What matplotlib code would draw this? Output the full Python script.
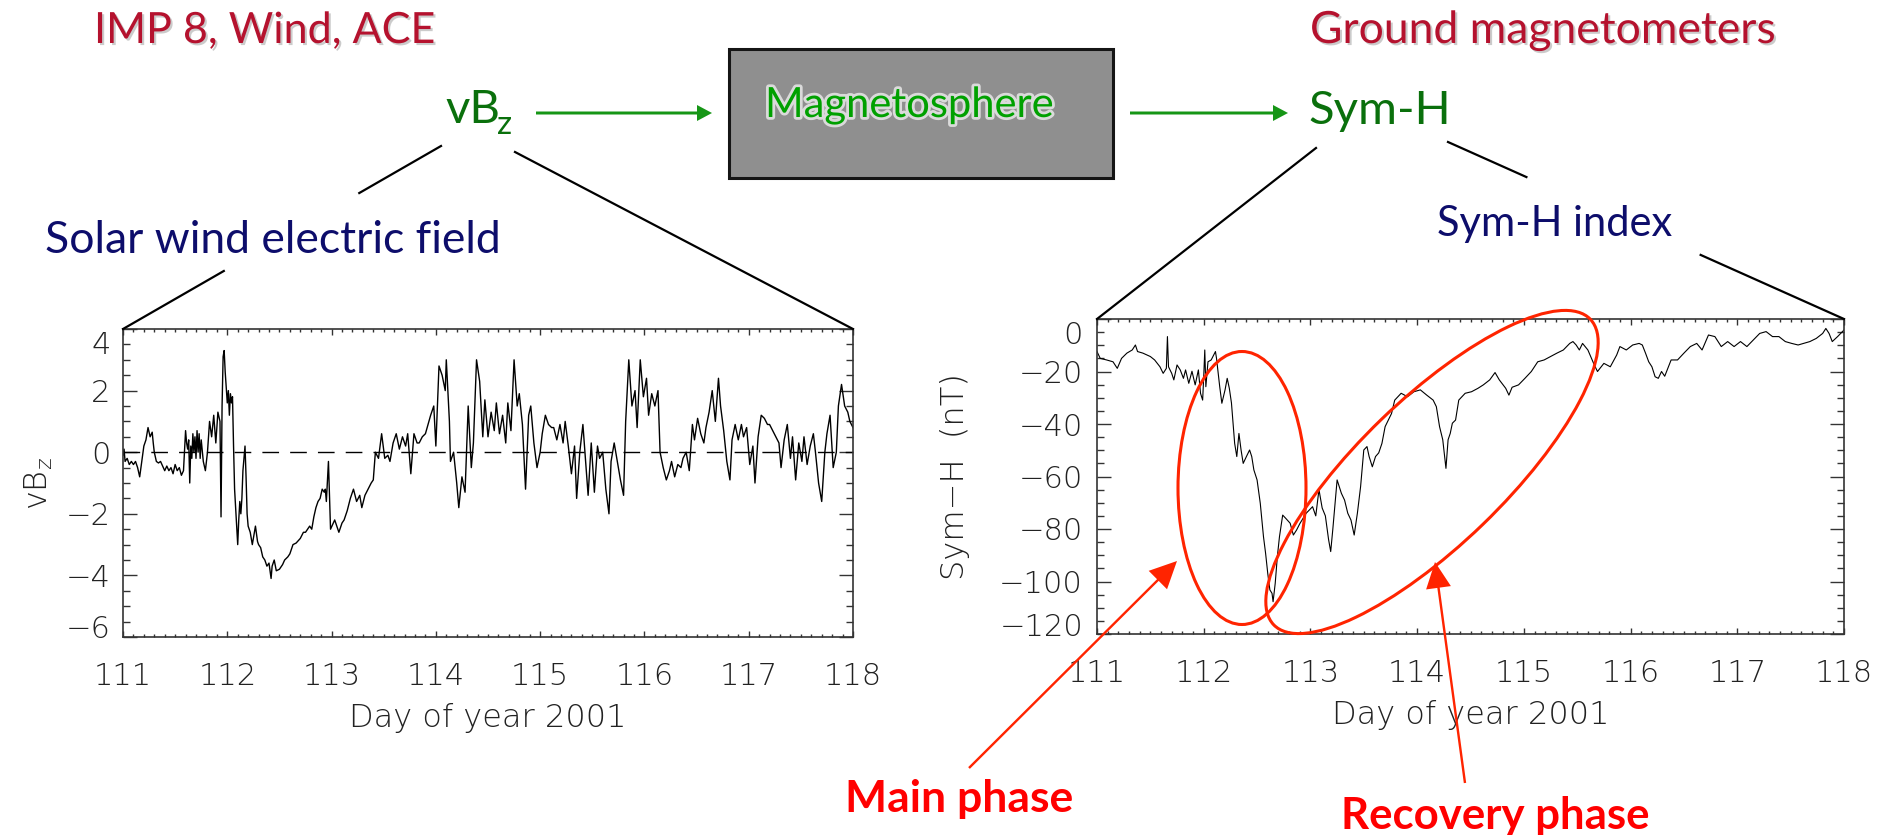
import matplotlib
matplotlib.use("Agg")
import matplotlib.pyplot as plt
import matplotlib.patheffects as pe
from matplotlib.patches import Rectangle, Ellipse, FancyArrow
from matplotlib.ticker import MultipleLocator
from matplotlib.transforms import ScaledTranslation

# Solar wind electric field vBz, day of year 2001
vbz_day = [
    111.00, 111.01, 111.02, 111.04, 111.06, 111.08, 111.10, 111.12, 111.14, 111.16,
    111.18, 111.20, 111.22, 111.24, 111.26, 111.28, 111.29, 111.30, 111.32, 111.34,
    111.36, 111.38, 111.40, 111.42, 111.44, 111.46, 111.48, 111.50, 111.52, 111.54,
    111.56, 111.58, 111.60, 111.61, 111.62, 111.63, 111.64, 111.65, 111.66, 111.67,
    111.68, 111.69, 111.70, 111.71, 111.72, 111.73, 111.74, 111.75, 111.77, 111.79,
    111.81, 111.83, 111.85, 111.87, 111.89, 111.91, 111.93, 111.94, 111.95, 111.96,
    111.97, 111.98, 111.99, 112.00, 112.01, 112.02, 112.03, 112.04, 112.05, 112.06,
    112.07, 112.08, 112.10, 112.11, 112.12, 112.13, 112.14, 112.15, 112.16, 112.17,
    112.18, 112.19, 112.20, 112.22, 112.24, 112.26, 112.27, 112.29, 112.30, 112.32,
    112.34, 112.36, 112.38, 112.40, 112.42, 112.43, 112.45, 112.47, 112.50, 112.53,
    112.55, 112.58, 112.60, 112.63, 112.66, 112.70, 112.73, 112.75, 112.77, 112.79,
    112.81, 112.83, 112.85, 112.87, 112.89, 112.91, 112.93, 112.94, 112.95, 112.97,
    112.98, 112.99, 113.03, 113.07, 113.10, 113.12, 113.15, 113.18, 113.21, 113.24,
    113.27, 113.29, 113.32, 113.35, 113.38, 113.40, 113.42, 113.45, 113.48, 113.51,
    113.54, 113.56, 113.59, 113.62, 113.65, 113.68, 113.71, 113.73, 113.76, 113.79,
    113.82, 113.84, 113.87, 113.90, 113.95, 113.98, 114.00, 114.03, 114.06, 114.09,
    114.10, 114.13, 114.14, 114.17, 114.20, 114.22, 114.25, 114.28, 114.31, 114.34,
    114.36, 114.39, 114.42, 114.45, 114.47, 114.50, 114.53, 114.56, 114.58, 114.61,
    114.64, 114.67, 114.69, 114.72, 114.75, 114.78, 114.80, 114.83, 114.86, 114.89,
    114.91, 114.94, 114.97, 115.00, 115.02, 115.05, 115.08, 115.11, 115.13, 115.16,
    115.19, 115.22, 115.24, 115.27, 115.30, 115.33, 115.35, 115.38, 115.41, 115.44,
    115.46, 115.49, 115.52, 115.55, 115.57, 115.60, 115.63, 115.66, 115.68, 115.71,
    115.74, 115.77, 115.80, 115.82, 115.85, 115.88, 115.91, 115.93, 115.96, 115.99,
    116.02, 116.04, 116.07, 116.10, 116.13, 116.15, 116.18, 116.21, 116.24, 116.26,
    116.29, 116.32, 116.35, 116.37, 116.40, 116.43, 116.46, 116.48, 116.51, 116.54,
    116.57, 116.59, 116.62, 116.65, 116.68, 116.71, 116.73, 116.76, 116.79, 116.82,
    116.84, 116.87, 116.90, 116.93, 116.95, 116.98, 117.01, 117.04, 117.06, 117.09,
    117.12, 117.15, 117.18, 117.20, 117.23, 117.26, 117.29, 117.31, 117.34, 117.37,
    117.40, 117.42, 117.45, 117.48, 117.51, 117.53, 117.56, 117.59, 117.62, 117.64,
    117.67, 117.70, 117.73, 117.75, 117.78, 117.81, 117.84, 117.86, 117.89, 117.92,
    117.95, 117.97, 118.00,
]
vbz_val = [
    -0.1, 0.1, -0.3, -0.2, -0.4, -0.3, -0.4, -0.3, -0.5, -0.8,
    -0.3, 0.2, 0.4, 0.8, 0.5, 0.65, 0.3, 0.0, -0.3, -0.35,
    -0.3, -0.45, -0.6, -0.45, -0.6, -0.5, -0.7, -0.4, -0.6, -0.5,
    -0.75, -0.6, 0.7, 0.3, 0.1, 0.4, -1.0, 0.2, -0.2, 0.6,
    0.0, 0.5, -0.2, 0.7, 0.0, 0.6, -0.2, 0.4, -0.3, -0.6,
    0.0, 1.0, 0.5, 1.2, 0.3, 1.3, 1.0, -2.1, 1.5, 3.1,
    3.3, 2.6, 2.1, 1.6, 2.0, 1.2, 1.9, 1.6, 1.8, 0.2,
    -1.2, -1.8, -3.0, -2.2, -1.6, -2.0, -1.5, -0.6, -0.2, 0.2,
    -0.8, -2.0, -2.4, -2.6, -3.0, -2.6, -2.4, -2.9, -3.0, -3.1,
    -3.4, -3.5, -3.7, -3.6, -4.1, -3.7, -3.5, -3.85, -3.8, -3.65,
    -3.5, -3.4, -3.3, -3.0, -2.95, -2.8, -2.6, -2.6, -2.5, -2.4,
    -2.5, -2.1, -1.8, -1.6, -1.5, -1.2, -1.3, -1.2, -1.6, -0.3,
    -1.4, -2.5, -2.2, -2.6, -2.3, -2.2, -1.9, -1.5, -1.2, -1.6,
    -1.4, -1.8, -1.4, -1.2, -1.0, -0.9, 0.0, -0.2, 0.6, -0.2,
    -0.1, -0.3, 0.3, 0.6, 0.1, 0.5, 0.2, 0.6, -0.7, 0.6,
    0.3, 0.3, 0.5, 0.6, 1.2, 1.5, 0.2, 2.8, 2.5, 2.0,
    3.0, 1.0, -0.3, 0.0, -1.0, -1.8, -0.8, -1.3, 1.5, -0.5,
    0.3, 3.0, 2.3, 0.5, 1.7, 0.5, 1.3, 0.7, 1.6, 0.6,
    1.2, 0.3, 1.6, 0.7, 3.0, 1.5, 1.9, 0.9, -1.2, 1.2,
    1.5, 0.3, -0.5, 0.0, 0.6, 1.2, 0.9, 0.8, 0.8, 0.4,
    0.9, 0.3, 1.0, 0.2, -0.7, 0.2, -1.5, 0.0, 0.9, -0.5,
    -1.4, 0.3, -1.3, 0.2, -0.2, 0.0, -1.2, -2.0, -0.3, 0.3,
    -0.3, -0.9, -1.4, 1.0, 3.0, 1.5, 2.0, 0.8, 3.0, 1.8,
    2.4, 1.2, 1.9, 1.5, 2.0, 0.0, -0.5, -0.9, -0.6, -0.3,
    -0.8, -0.4, -0.5, -0.2, 0.0, -0.6, 0.9, 0.4, 1.1, 0.6,
    0.3, 0.8, 1.3, 2.0, 1.0, 2.4, 1.5, 0.7, -0.3, -0.9,
    0.4, 0.9, 0.4, 0.9, 0.5, 0.8, -0.4, 0.2, -1.0, 0.5,
    1.2, 1.1, 0.9, 0.9, 0.7, 0.5, 0.3, -0.5, 0.4, 0.9,
    -0.2, 0.5, -0.9, 0.3, -0.3, 0.5, -0.4, 0.2, 0.6, 0.0,
    -1.0, -1.6, 0.0, 0.6, 1.2, -0.5, 0.0, 1.5, 2.2, 1.5,
    1.3, 1.0, 0.8,
]

# Sym-H index (nT), day of year 2001
symh_day = [
    111.00, 111.03, 111.09, 111.15, 111.19, 111.23, 111.28, 111.33, 111.36, 111.38,
    111.43, 111.50, 111.54, 111.59, 111.62, 111.65, 111.66, 111.67, 111.70, 111.72,
    111.75, 111.78, 111.81, 111.83, 111.86, 111.89, 111.92, 111.95, 111.97, 111.99,
    112.00, 112.01, 112.02, 112.04, 112.07, 112.11, 112.12, 112.15, 112.17, 112.20,
    112.22, 112.24, 112.26, 112.27, 112.29, 112.31, 112.33, 112.35, 112.37, 112.40,
    112.43, 112.45, 112.47, 112.50, 112.53, 112.56, 112.58, 112.60, 112.62, 112.64,
    112.65, 112.67, 112.69, 112.71, 112.74, 112.77, 112.81, 112.84, 112.87, 112.90,
    112.96, 113.02, 113.05, 113.08, 113.11, 113.14, 113.17, 113.19, 113.21, 113.25,
    113.29, 113.32, 113.35, 113.38, 113.41, 113.44, 113.47, 113.50, 113.53, 113.55,
    113.58, 113.61, 113.64, 113.67, 113.70, 113.73, 113.76, 113.79, 113.85, 113.91,
    113.97, 114.03, 114.09, 114.15, 114.18, 114.21, 114.24, 114.27, 114.29, 114.31,
    114.33, 114.36, 114.39, 114.45, 114.51, 114.57, 114.62, 114.68, 114.73, 114.77,
    114.83, 114.86, 114.89, 114.95, 115.01, 115.07, 115.13, 115.19, 115.25, 115.31,
    115.37, 115.43, 115.46, 115.49, 115.52, 115.55, 115.60, 115.66, 115.69, 115.75,
    115.81, 115.87, 115.90, 115.96, 116.02, 116.08, 116.11, 116.14, 116.17, 116.20,
    116.23, 116.26, 116.29, 116.32, 116.38, 116.44, 116.50, 116.56, 116.62, 116.67,
    116.73, 116.79, 116.85, 116.91, 116.97, 117.03, 117.09, 117.15, 117.21, 117.27,
    117.33, 117.39, 117.45, 117.51, 117.57, 117.62, 117.68, 117.74, 117.80, 117.83,
    117.86, 117.89, 117.94, 118.00,
]
symh_val = [
    -12.4, -15.0, -15.6, -16.3, -18.8, -15.0, -13.0, -11.8, -9.9, -12.4,
    -13.0, -14.3, -15.6, -18.2, -20.7, -18.8, -6.7, -18.2, -20.7, -23.2,
    -17.5, -19.4, -22.6, -19.4, -24.5, -19.9, -25.1, -19.4, -28.3, -30.9,
    -22.0, -11.8, -25.8, -16.3, -15.6, -12.4, -15.0, -25.8, -32.1, -27.0,
    -22.6, -26.4, -32.0, -37.2, -47.4, -52.4, -43.6, -49.9, -55.0, -52.4,
    -49.9, -52.4, -57.5, -61.3, -70.2, -82.9, -89.3, -96.9, -103.2, -104.5,
    -107.7, -100.7, -90.5, -82.9, -74.7, -76.0, -77.8, -82.3, -80.4, -78.0,
    -74.0, -71.5, -75.0, -65.0, -72.0, -75.0, -84.0, -88.6, -80.0, -61.3,
    -66.4, -69.0, -74.0, -76.6, -82.3, -74.0, -63.9, -49.9, -48.6, -52.4,
    -56.3, -52.4, -51.0, -47.4, -41.0, -38.5, -36.0, -30.9, -28.3, -29.6,
    -27.7, -27.0, -29.0, -30.9, -33.4, -41.0, -46.0, -56.9, -46.0, -43.6,
    -39.7, -38.5, -30.9, -28.3, -27.7, -26.4, -25.1, -23.2, -20.4, -23.2,
    -26.4, -29.0, -26.0, -25.1, -22.6, -20.0, -16.3, -15.6, -14.3, -13.0,
    -11.8, -9.3, -8.6, -9.9, -11.8, -9.3, -11.8, -17.5, -20.0, -16.9,
    -18.2, -13.7, -10.5, -11.8, -9.9, -9.3, -9.9, -13.0, -16.3, -18.2,
    -22.0, -22.6, -20.0, -21.8, -15.6, -15.6, -13.0, -10.5, -9.3, -11.8,
    -6.1, -6.7, -10.5, -8.6, -10.5, -8.6, -10.5, -8.0, -5.5, -4.8,
    -6.7, -6.7, -8.6, -9.3, -9.9, -9.3, -8.6, -7.4, -5.5, -3.6,
    -5.5, -8.6, -6.7, -4.2,
]

day_ticks = [111, 112, 113, 114, 115, 116, 117, 118]
vbz_ticks = [-6, -4, -2, 0, 2, 4]
symh_ticks = [-120, -100, -80, -60, -40, -20, 0]

W, H = 1894, 835
plt.rcParams["font.family"] = "DejaVu Sans"
plt.rcParams["font.weight"] = "light"
plt.rcParams["axes.labelweight"] = "light"
fig = plt.figure(figsize=(W / 100, H / 100), dpi=100)

LEFT_BOX = (123, 329, 853, 637)     # left, top, right, bottom in pixels
RIGHT_BOX = (1097, 319, 1844, 634)


def px_axes(box):
    l, t, r, b = box
    return fig.add_axes([l / W, 1 - b / H, (r - l) / W, (b - t) / H])


def nudge(label, dy_px):
    label.set_transform(label.get_transform()
                        + ScaledTranslation(0, dy_px / 100, fig.dpi_scale_trans))


def idl_axes(ax, yticks, yminor, ypad):
    ax.set_xlim(111, 118)
    ax.set_xticks(day_ticks)
    ax.xaxis.set_minor_locator(MultipleLocator(0.1))
    ax.set_yticks(yticks)
    ax.set_ylim(yticks[0], yticks[-1])
    ax.yaxis.set_minor_locator(MultipleLocator(yminor))
    ax.tick_params(which="both", direction="in", top=True, right=True,
                   color="#333333", width=1.0, labelsize=22, labelcolor="#222222")
    ax.tick_params(axis="x", which="major", length=4.5, pad=18)
    ax.tick_params(axis="x", which="minor", length=2.2)
    ax.tick_params(axis="y", which="major", length=10, pad=ypad)
    ax.tick_params(axis="y", which="minor", length=5)
    for s in ax.spines.values():
        s.set_color("#333333")
        s.set_linewidth(1.2)
    ax.set_xlabel("Day of year 2001", fontsize=23, color="#222222", fontweight="light")
    ticks = ax.yaxis.get_major_ticks()
    nudge(ticks[0].label1, 10)
    nudge(ticks[-1].label1, -14)


# Left: solar wind electric field
ax1 = px_axes(LEFT_BOX)
ax1.plot(vbz_day, vbz_val, color="black", lw=1.0)
ax1.axhline(0, color="black", lw=1.0, ls=(0, (12, 8)))
idl_axes(ax1, vbz_ticks, 0.5, 9)
ax1.set_ylabel("vB$_\\mathregular{z}$", fontsize=23, color="#222222",
               fontweight="light", va="center")
ax1.yaxis.set_label_coords(-0.116, 0.5)
ax1.xaxis.set_label_coords(0.5, -0.215)

# Right: Sym-H index
ax2 = px_axes(RIGHT_BOX)
ax2.plot(symh_day, symh_val, color="black", lw=0.8)
idl_axes(ax2, symh_ticks, 5, 10)
ax2.set_ylabel("Sym\u2212H  (nT)", fontsize=23, color="#222222",
               fontweight="light", va="center")
ax2.yaxis.set_label_coords(-0.19, 0.5)
ax2.xaxis.set_label_coords(0.5, -0.21)

# Overlay in pixel units for the diagram
ov = fig.add_axes([0, 0, 1, 1])
ov.set_xlim(0, W)
ov.set_ylim(H, 0)
ov.axis("off")

SANS = "Lato"
crimson = "#b5122e"
dkgreen = "#0a700c"
navy = "#0d0d6b"
arrow_green = "#169616"
red = "#ff2400"

shadow = [pe.SimplePatchShadow(offset=(1.5, -1.5), shadow_rgbFace="#999999", alpha=0.5),
          pe.Normal()]

ov.add_patch(Rectangle((729, 49), 384, 129, facecolor="#8f8f8f",
                       edgecolor="#151515", lw=2.2))
ov.text(765, 117, "Magnetosphere", color="#00a000", fontsize=30, family=SANS,
        weight="normal", va="baseline",
        path_effects=[pe.Stroke(linewidth=4, foreground="#eeeeee", alpha=0.8),
                      pe.Normal()])

ov.text(94, 43, "IMP 8, Wind, ACE", color=crimson, fontsize=31, family=SANS,
        weight="normal", va="baseline", path_effects=shadow)
ov.text(1310, 43, "Ground magnetometers", color=crimson, fontsize=32, family=SANS,
        weight="normal", va="baseline", path_effects=shadow)

ov.text(445, 123, "vB", color=dkgreen, fontsize=34, family=SANS, weight="normal",
        va="baseline")
ov.text(497, 134, "z", color=dkgreen, fontsize=24, family=SANS, weight="normal",
        va="baseline")
ov.text(1308, 124, "Sym-H", color=dkgreen, fontsize=34, family=SANS,
        weight="normal", va="baseline")

ov.text(45, 253, "Solar wind electric field", color=navy, fontsize=32, family=SANS,
        weight="normal", va="baseline")
ov.text(1437, 236, "Sym-H index", color=navy, fontsize=30, family=SANS,
        weight="normal", va="baseline")

for x0, x1 in [(536, 712), (1130, 1288)]:
    ov.add_patch(FancyArrow(x0, 113, x1 - x0, 0, width=3, head_width=16,
                            head_length=15, length_includes_head=True,
                            color=arrow_green, lw=0))


def gapped_line(p0, p1, gap=None):
    (x0, y0), (x1, y1) = p0, p1
    if gap is None:
        ov.plot([x0, x1], [y0, y1], color="black", lw=1.6)
        return
    t0, t1 = gap
    ov.plot([x0, x0 + t0 * (x1 - x0)], [y0, y0 + t0 * (y1 - y0)], color="black", lw=1.6)
    ov.plot([x0 + t1 * (x1 - x0), x1], [y0 + t1 * (y1 - y0), y1], color="black", lw=1.6)


gapped_line((441, 146), (LEFT_BOX[0], LEFT_BOX[1]), gap=(0.257, 0.683))
gapped_line((515, 152), (LEFT_BOX[2], LEFT_BOX[1]))
gapped_line((1316, 148), (RIGHT_BOX[0], RIGHT_BOX[1]))
gapped_line((1448, 142), (RIGHT_BOX[2], RIGHT_BOX[1]), gap=(0.198, 0.638))

# Storm phases
ov.add_patch(Ellipse((1242, 488), 128, 273, angle=0, fill=False,
                     edgecolor=red, lw=2.2))
ov.add_patch(Ellipse((1432, 472), 440, 146, angle=-44, fill=False,
                     edgecolor=red, lw=2.2))
ov.add_patch(FancyArrow(969, 768, 1177 - 969, 561 - 768, width=2.4, head_width=26,
                        head_length=27, length_includes_head=True, color=red, lw=0))
ov.add_patch(FancyArrow(1465, 783, 1435 - 1465, 562 - 783, width=2.4, head_width=25,
                        head_length=26, length_includes_head=True, color=red, lw=0))
ov.text(845, 812, "Main phase", color="#ff0000", fontsize=32, family=SANS,
        weight="bold", va="baseline")
ov.text(1341, 829, "Recovery phase", color="#ff0000", fontsize=31.5, family=SANS,
        weight="bold", va="baseline")

fig.savefig("out.png", dpi=100)
